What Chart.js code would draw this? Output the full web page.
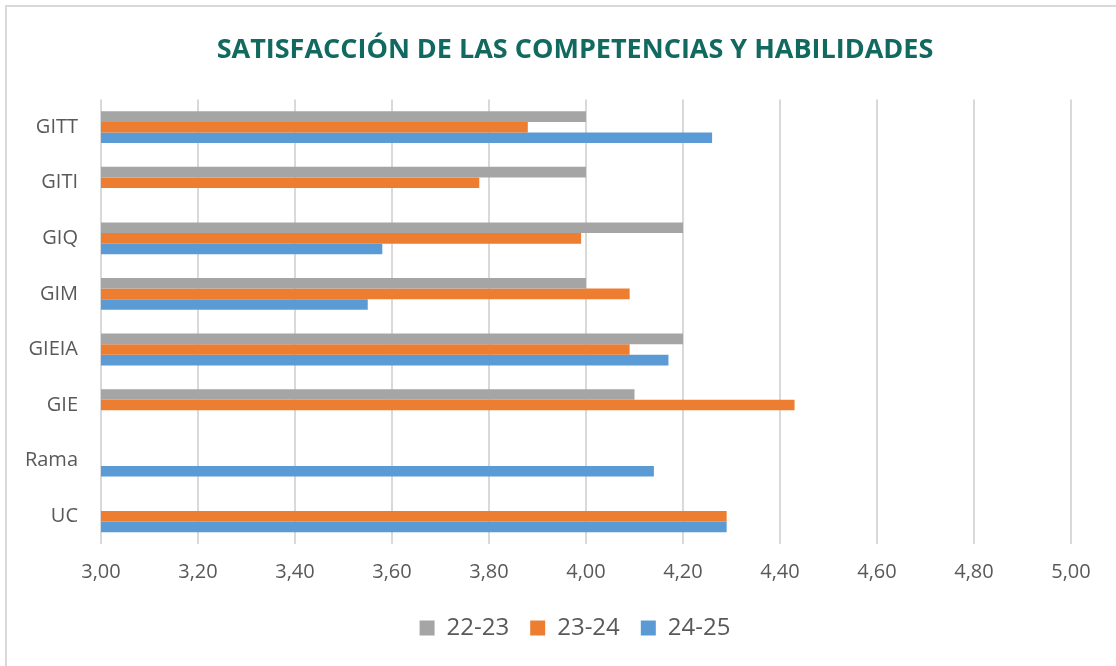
<!DOCTYPE html>
<html>
<head>
<meta charset="utf-8">
<script src="https://cdn.jsdelivr.net/npm/chart.js@4"></script>
<style>
  html, body { margin: 0; padding: 0; background: #fff; overflow: hidden; }
  #box { position: absolute; left: 5px; top: 5px; width: 1140px; height: 700px;
         border: 2px solid #d9d9d9; background: #fff; }
  #wrap { position: absolute; left: 0; top: 0; width: 1136px; height: 660px; }
</style>
</head>
<body>
<div id="box"><div id="wrap"><canvas id="grafico"></canvas></div></div>
<script>
var labels = ["GITT", "GITI", "GIQ", "GIM", "GIEIA", "GIE", "Rama", "UC"];
var series = ["22-23", "23-24", "24-25"];
var v2223 = [4.00, 4.00, 4.20, 4.00, 4.20, 4.10, null, null];
var v2324 = [3.88, 3.78, 3.99, 4.09, 4.09, 4.43, null, 4.29];
var v2425 = [4.26, null, 3.58, 3.55, 4.17, null, 4.14, 4.29];
var colores = ['#a5a5a5', '#ed7d31', '#5b9bd5'];

Chart.defaults.font.family = "'Open Sans', sans-serif";
Chart.defaults.color = '#595959';

var ctx = document.getElementById("grafico").getContext('2d');
var myChart = new Chart(ctx, {
    type: 'bar',
    data: {
        labels: labels,
        datasets: [
            { label: series[0], data: v2223, backgroundColor: colores[0] },
            { label: series[1], data: v2324, backgroundColor: colores[1] },
            { label: series[2], data: v2425, backgroundColor: colores[2] }
        ]
    },
    options: {
        indexAxis: 'y',
        responsive: true,
        maintainAspectRatio: false,
        animation: false,
        datasets: {
            bar: { categoryPercentage: 0.573, barPercentage: 1.0 }
        },
        layout: { padding: { left: 0, right: 0, top: 0, bottom: 17 } },
        scales: {
            x: {
                min: 3, max: 5,
                ticks: {
                    stepSize: 0.2,
                    padding: 16,
                    font: { size: 20 },
                    callback: function (v) { return v.toFixed(2).replace('.', ','); }
                },
                grid: { color: '#d9d9d9', lineWidth: 2, drawTicks: false },
                border: { display: false },
                // margen derecho del área de trazado y alto fijo del eje
                afterFit: function (s) { s.paddingRight = 72; s.height = 51; }
            },
            y: {
                ticks: { padding: 23, font: { size: 20 } },
                grid: { display: false, drawTicks: false },
                border: { display: false },
                afterFit: function (s) { s.width = 94; }
            }
        },
        plugins: {
            title: {
                display: true,
                text: "SATISFACCIÓN DE LAS COMPETENCIAS Y HABILIDADES",
                color: '#12695f',
                font: { size: 27, weight: 'bold' },
                padding: { top: 27, bottom: 33 }
            },
            legend: {
                position: 'bottom',
                labels: { boxWidth: 15, boxHeight: 15, padding: 21, font: { size: 24 } }
            },
            tooltip: { enabled: false }
        }
    }
});
</script>
</body>
</html>
